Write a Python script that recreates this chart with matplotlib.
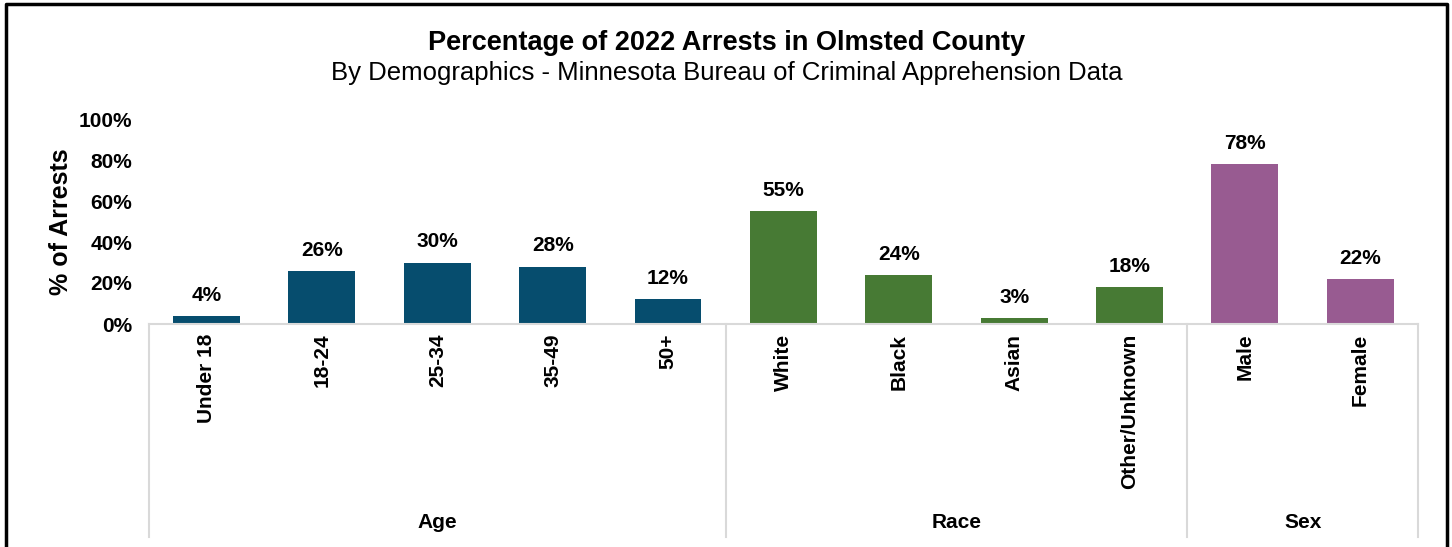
import matplotlib
matplotlib.use("Agg")
from matplotlib import pyplot as plt
from matplotlib import transforms

plt.rcParams['font.family'] = ['Liberation Sans', 'DejaVu Sans']

age_labels = ['Under 18', '18-24', '25-34', '35-49', '50+']
age_values = [4, 26, 30, 28, 12]
race_labels = ['White', 'Black', 'Asian', 'Other/Unknown']
race_values = [55, 24, 3, 18]
sex_labels = ['Male', 'Female']
sex_values = [78, 22]

groups = [('Age', age_labels, age_values, '#064D6E'),
          ('Race', race_labels, race_values, '#477A34'),
          ('Sex', sex_labels, sex_values, '#985B91')]

fig = plt.figure(figsize=(14.52, 5.47), dpi=100)
ax = fig.add_axes([148.8 / 1452, 1 - 324 / 547, (1418 - 148.8) / 1452, 205 / 547])

labels = []
pos = 0
seps = [-0.5]
group_centers = []
for name, cats, vals, color in groups:
    xs = list(range(pos, pos + len(cats)))
    bars = ax.bar(xs, vals, width=0.58, color=color, zorder=2)
    for b, v in zip(bars, vals):
        ax.annotate(f'{v}%', (b.get_x() + b.get_width() / 2, v),
                    xytext=(0, 8), textcoords='offset points',
                    ha='center', va='bottom', fontsize=15, fontweight='bold')
    labels += cats
    group_centers.append((xs[0] + xs[-1]) / 2)
    pos += len(cats)
    seps.append(pos - 0.5)

ax.set_xlim(-0.5, pos - 0.5)
ax.set_ylim(0, 100)
ax.set_yticks(range(0, 101, 20))
ax.set_yticklabels([f'{t}%' for t in range(0, 101, 20)], fontsize=15, fontweight='bold')
ax.set_xticks(range(pos))
ax.set_xticklabels(labels, rotation=90, fontsize=15, fontweight='bold', va='top')
ax.tick_params(axis='x', length=0, pad=7)
ax.tick_params(axis='y', length=0, pad=12)
ax.set_ylabel('% of Arrests', fontsize=18, fontweight='bold', labelpad=4)

for s in ['top', 'right', 'left']:
    ax.spines[s].set_visible(False)
ax.spines['bottom'].set_color('#d9d9d9')
ax.spines['bottom'].set_linewidth(1.5)

# category group dividers and names below the axis
trans = transforms.blended_transform_factory(ax.transData, ax.transAxes)
for s in seps:
    ax.plot([s, s], [0, -1.04], transform=trans, color='#d9d9d9', lw=1.5, clip_on=False)
for (name, _, _, _), c in zip(groups, group_centers):
    ax.text(c, -0.966, name, transform=trans, ha='center', va='center',
            fontsize=15, fontweight='bold')

fig.text(727 / 1452, 1 - 43 / 547, 'Percentage of 2022 Arrests in Olmsted County',
         ha='center', va='center', fontsize=19.5, fontweight='bold')
fig.text(727 / 1452, 1 - 73 / 547, 'By Demographics - Minnesota Bureau of Criminal Apprehension Data',
         ha='center', va='center', fontsize=18.5)

# outer frame
fig.add_artist(plt.Line2D([6 / 1452, 6 / 1452, 1447 / 1452, 1447 / 1452],
                          [0, 1 - 4 / 547, 1 - 4 / 547, 0],
                          transform=fig.transFigure, color='black', lw=2.5))

fig.savefig('out.png', dpi=100)
